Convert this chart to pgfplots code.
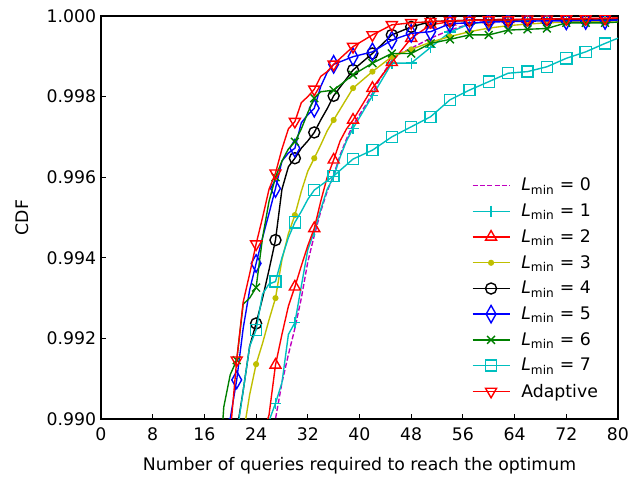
\documentclass[border=0pt]{standalone}
\usepackage{pgfplots}
\pgfplotsset{compat=1.18}
\usepackage{fontspec}
\setmainfont{DejaVu Sans}
\definecolor{mplc}{rgb}{0,0.75,0.75}
\definecolor{mplm}{rgb}{0.75,0,0.75}
\definecolor{mply}{rgb}{0.75,0.75,0}
\definecolor{mplg}{rgb}{0,0.5,0}
\definecolor{mplb}{rgb}{0,0,1}
\definecolor{mplr}{rgb}{1,0,0}
\pgfplotsset{
  sA/.style={mplm, line width=1pt, dash pattern=on 3.7pt off 1.6pt, mark=none},
  sB/.style={mplc, line width=1pt, mark=+, mark size=4pt, mark options={solid, line width=1pt}},
  sC/.style={mplr, line width=1pt, mark=triangle, mark size=4.6pt, mark options={solid, fill=none, line width=1pt}},
  sD/.style={mply, line width=1pt, mark=*, mark size=1.8pt, mark options={solid, fill=mply, line width=0.8pt}},
  sE/.style={black, line width=1pt, mark=o, mark size=4pt, mark options={solid, fill=none, line width=1pt}},
  sF/.style={mplb, line width=1pt, mark=diamond, mark size=6.3pt, mark options={solid, fill=none, xscale=0.75, line width=1pt}},
  sG/.style={mplg, line width=1pt, mark=x, mark size=4pt, mark options={solid, line width=1pt}},
  sH/.style={mplc, line width=1pt, mark=square, mark size=4pt, mark options={solid, fill=none, line width=1pt}},
  sI/.style={mplr, line width=1pt, mark=triangle, mark size=4.6pt, mark options={solid, fill=none, rotate=180, line width=1pt}},
}
\begin{document}
\begin{tikzpicture}
\begin{axis}[
  name=ax,
  width=5.17in, height=4.03in, scale only axis,
  font=\fontsize{12.5}{15}\selectfont,
  xmin=0, xmax=80, ymin=0.990, ymax=1.000,
  xtick={0,8,...,80},
  ytick={0.990,0.992,0.994,0.996,0.998,1.000},
  scaled y ticks=false,
  yticklabel style={/pgf/number format/fixed,/pgf/number format/fixed zerofill,/pgf/number format/precision=3},
  xticklabel style={yshift=-0.04in},
  /pgf/number format/assume math mode=true,
  tick pos=left, tick align=inside,
  major tick length=0.05in,
  tick style={black, line width=0.8pt},
  axis line style={line width=1pt},
  xlabel={Number of queries required to reach the optimum},
  ylabel={CDF},
  xlabel shift=0.07in,
  ylabel shift=0.08in,
  clip marker paths=true,
  legend cell align=left,
  legend style={draw=none, fill=none, at={(0.975,0.035)}, anchor=south east, row sep=3.9pt,
    /tikz/every odd column/.append style={column sep=6pt}},
  legend image code/.code={\draw[mark repeat=2,mark phase=2,#1] plot coordinates {(0cm,0cm) (0.47cm,0cm) (0.94cm,0cm)};},
]
% L0
\addplot[sA, forget plot] coordinates {(26,0.98950) (27,0.99000) (28,0.99090) (29,0.99160) (30,0.99225) (31,0.99300) (32,0.99390) (33,0.99455) (34,0.99515) (35,0.99565) (36,0.99605) (37,0.99655) (38,0.99695) (39,0.99730) (40,0.99755) (41,0.99780) (42,0.99808) (43,0.99840) (44,0.99866) (45,0.99890) (46,0.99905) (48,0.99920) (51,0.99945) (54,0.99965) (57,0.99980) (60,0.99988) (66,0.99990) (72,0.99991) (80,0.99992)};
% L1
\addplot[sB, forget plot, mark indices={1,4,7,10,13,14,15,16,17,18,19,20,21,22,23,24,25,26}] coordinates {(26,0.98995) (27,0.99039) (28,0.99090) (29,0.99210) (30,0.99239) (31,0.99330) (32,0.99420) (33,0.99465) (34,0.99520) (35,0.99570) (36,0.99601) (37,0.99650) (38,0.99690) (39,0.99721) (42,0.99802) (45,0.99883) (48,0.99883) (51,0.99922) (54,0.99960) (57,0.99980) (60,0.99986) (63,0.99989) (66,0.99990) (69,0.99991) (72,0.99991) (75,0.99992) (78,0.99992) (80,0.99993)};
% L2
\addplot[sC, forget plot, mark indices={2,5,8,11,14,15,16,17,18,19,20,21,22,23,24,25,26,27}] coordinates {(25,0.98960) (26,0.99010) (27,0.99134) (28,0.99210) (29,0.99280) (30,0.99328) (31,0.99380) (32,0.99430) (33,0.99473) (34,0.99540) (35,0.99600) (36,0.99643) (37,0.99690) (38,0.99720) (39,0.99742) (42,0.99821) (45,0.99885) (48,0.99945) (51,0.99978) (54,0.99986) (57,0.99990) (60,0.99991) (63,0.99992) (66,0.99992) (69,0.99993) (72,0.99993) (75,0.99994) (78,0.99994) (80,0.99995)};
% L3
\addplot[sD, forget plot, mark indices={2,5,8,11,14,15,16,17,18,19,20,21,22,23,24,25,26,27,28}] coordinates {(22,0.98960) (23,0.99060) (24,0.99136) (25,0.99188) (26,0.99246) (27,0.99300) (28,0.99395) (29,0.99460) (30,0.99506) (31,0.99565) (32,0.99615) (33,0.99647) (34,0.99680) (35,0.99715) (36,0.99742) (39,0.99821) (42,0.99862) (45,0.99899) (48,0.99917) (51,0.99935) (54,0.99949) (57,0.99961) (60,0.99970) (63,0.99976) (66,0.99980) (69,0.99983) (72,0.99985) (75,0.99986) (78,0.99987) (80,0.99988)};
% L4
\addplot[sE, forget plot, mark indices={0,3,6,9,12,15,16,17,18,19,20,21,22,23,24,25,26,27,28,29}] coordinates {(21,0.98970) (22,0.99070) (23,0.99180) (24,0.99237) (25,0.99300) (26,0.99370) (27,0.99444) (28,0.99570) (29,0.99626) (30,0.99647) (31,0.99672) (32,0.99690) (33,0.99711) (34,0.99742) (35,0.99770) (36,0.99802) (39,0.99866) (42,0.99907) (45,0.99953) (48,0.99973) (51,0.99986) (54,0.99988) (57,0.99989) (60,0.99990) (63,0.99990) (66,0.99991) (69,0.99991) (72,0.99992) (75,0.99992) (78,0.99993) (80,0.99993)};
% L5
\addplot[sF, forget plot, mark indices={0,2,5,8,11,14,17,18,19,20,21,22,23,24,25,26,27,28,29,30,31}] coordinates {(18,0.98985) (20,0.99001) (21,0.99097) (22,0.99225) (23,0.99320) (24,0.99386) (25,0.99450) (26,0.99510) (27,0.99572) (28,0.99640) (29,0.99660) (30,0.99672) (31,0.99735) (32,0.99755) (33,0.99771) (34,0.99825) (35,0.99860) (36,0.99880) (39,0.99899) (42,0.99911) (45,0.99940) (48,0.99957) (51,0.99961) (54,0.99981) (57,0.99983) (60,0.99985) (63,0.99986) (66,0.99987) (69,0.99988) (72,0.99988) (75,0.99989) (78,0.99989) (80,0.99990)};
% L6
\addplot[sG, forget plot, mark indices={0,3,6,9,12,15,17,18,19,20,21,22,23,24,25,26,27,28,29,30,31}] coordinates {(18,0.98800) (19,0.99030) (20,0.99110) (21,0.99146) (22,0.99285) (23,0.99300) (24,0.99326) (25,0.99450) (26,0.99540) (27,0.99600) (28,0.99640) (29,0.99670) (30,0.99688) (31,0.99720) (32,0.99760) (33,0.99796) (34,0.99812) (36,0.99816) (39,0.99854) (42,0.99883) (45,0.99907) (48,0.99907) (51,0.99932) (54,0.99942) (57,0.99953) (60,0.99953) (63,0.99965) (66,0.99967) (69,0.99969) (72,0.99983) (75,0.99983) (78,0.99983) (80,0.99985)};
% L7
\addplot[sH, forget plot, mark indices={0,3,6,9,12,13,14,15,16,17,18,19,20,21,22,23,24,25,26,27}] coordinates {(21,0.98960) (22,0.99070) (23,0.99180) (24,0.99221) (25,0.99310) (26,0.99335) (27,0.99341) (28,0.99400) (29,0.99450) (30,0.99488) (31,0.99515) (32,0.99545) (33,0.99568) (36,0.99603) (39,0.99645) (42,0.99667) (45,0.99700) (48,0.99725) (51,0.99750) (54,0.99792) (57,0.99816) (60,0.99837) (63,0.99858) (66,0.99862) (69,0.99874) (72,0.99895) (75,0.99911) (78,0.99932) (80,0.99945)};
% Adaptive
\addplot[sI, forget plot, mark indices={1,4,7,10,13,16,17,18,19,20,21,22,23,24,25,26,27,28,29,30}] coordinates {(20,0.98965) (21,0.99146) (22,0.99290) (23,0.99360) (24,0.99434) (25,0.99500) (26,0.99570) (27,0.99610) (28,0.99670) (29,0.99720) (30,0.99738) (31,0.99785) (32,0.99800) (33,0.99818) (34,0.99850) (35,0.99862) (36,0.99880) (39,0.99924) (42,0.99953) (45,0.99978) (48,0.99983) (51,0.99986) (54,0.99988) (57,0.99989) (60,0.99990) (63,0.99990) (66,0.99992) (69,0.99992) (72,0.99993) (75,0.99993) (78,0.99994) (80,0.99995)};
\addlegendimage{sA}\addlegendentry{\textit{L}\textsubscript{min} = 0}
\addlegendimage{sB}\addlegendentry{\textit{L}\textsubscript{min} = 1}
\addlegendimage{sC}\addlegendentry{\textit{L}\textsubscript{min} = 2}
\addlegendimage{sD}\addlegendentry{\textit{L}\textsubscript{min} = 3}
\addlegendimage{sE}\addlegendentry{\textit{L}\textsubscript{min} = 4}
\addlegendimage{sF}\addlegendentry{\textit{L}\textsubscript{min} = 5}
\addlegendimage{sG}\addlegendentry{\textit{L}\textsubscript{min} = 6}
\addlegendimage{sH}\addlegendentry{\textit{L}\textsubscript{min} = 7}
\addlegendimage{sI}\addlegendentry{Adaptive}
\end{axis}
\path ([xshift=-1.01in,yshift=-0.59in]ax.south west) rectangle ([xshift=0.22in,yshift=0.16in]ax.north east);
\end{tikzpicture}
\end{document}
